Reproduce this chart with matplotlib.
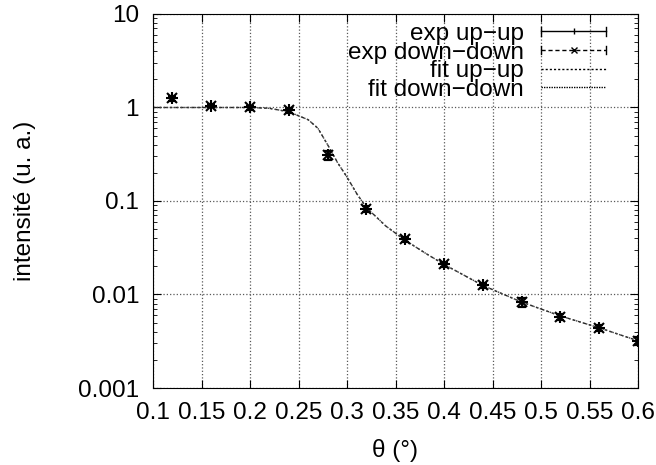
import matplotlib
matplotlib.use("Agg")
import matplotlib.pyplot as plt
from matplotlib.legend_handler import HandlerBase
from matplotlib.lines import Line2D
from matplotlib.ticker import LogLocator, FixedLocator, FuncFormatter, NullFormatter

plt.rcParams['font.family'] = ['Liberation Sans', 'DejaVu Sans']

# data
theta_exp = [0.12, 0.16, 0.20, 0.24, 0.28, 0.32, 0.36, 0.40, 0.44, 0.48, 0.52, 0.56, 0.60]
exp_upup = [1.25, 1.05, 1.0, 0.93, 0.31, 0.083, 0.039, 0.021, 0.0125, 0.0083, 0.0058, 0.0044, 0.0032]
err_upup = [0.07, 0.05, 0.05, 0.05, 0.035, 0.006, 0.0025, 0.0013, 0.0008, 0.0009, 0.0004, 0.0003, 0.0003]
exp_dndn = [1.25, 1.05, 1.0, 0.93, 0.31, 0.083, 0.039, 0.021, 0.0125, 0.0083, 0.0058, 0.0044, 0.0032]
err_dndn = [0.07, 0.05, 0.05, 0.05, 0.035, 0.006, 0.0025, 0.0013, 0.0008, 0.0009, 0.0004, 0.0003, 0.0003]

theta_fit = [0.10, 0.12, 0.14, 0.16, 0.18, 0.20, 0.22, 0.24, 0.26, 0.27, 0.28, 0.29, 0.30, 0.31,
             0.32, 0.34, 0.36, 0.38, 0.40, 0.44, 0.48, 0.52, 0.56, 0.60]
fit_upup = [1.0, 1.0, 1.0, 1.0, 1.0, 1.0, 0.98, 0.9, 0.74, 0.6, 0.40, 0.26, 0.18, 0.12,
            0.085, 0.054, 0.038, 0.028, 0.021, 0.0125, 0.0083, 0.0059, 0.0044, 0.0032]
fit_dndn = [1.0, 1.0, 1.0, 1.0, 1.0, 1.0, 0.98, 0.9, 0.74, 0.6, 0.40, 0.26, 0.18, 0.12,
            0.085, 0.054, 0.038, 0.028, 0.021, 0.0125, 0.0083, 0.0059, 0.0044, 0.0032]

labels = ['exp up\u2212up', 'exp down\u2212down', 'fit up\u2212up', 'fit down\u2212down']
xticks = [0.1, 0.15, 0.2, 0.25, 0.3, 0.35, 0.4, 0.45, 0.5, 0.55, 0.6]
yticks = [0.001, 0.01, 0.1, 1, 10]

FS = 17.5

fig = plt.figure(figsize=(6.56, 4.65), dpi=100)
ax = fig.add_axes([153/656, 77/465, (638-153)/656, (388-14)/465])

ax.set_yscale('log')
ax.set_xlim(0.1, 0.6)
ax.set_ylim(0.001, 10)

ax.plot(theta_fit, fit_upup, ls=(0, (2, 2)), color='0.15', lw=1)
ax.plot(theta_fit, fit_dndn, ls=(0, (1, 1.5)), color='0.25', lw=1)
ax.errorbar(theta_exp, exp_upup, yerr=err_upup, fmt='+', color='k', ms=8, mew=1.5,
            elinewidth=1, capsize=3)
ax.errorbar(theta_exp, exp_dndn, yerr=err_dndn, fmt='x', color='k', ms=7, mew=1.5,
            elinewidth=1, capsize=3, ls='none')

ax.xaxis.set_major_locator(FixedLocator(xticks))
ax.xaxis.set_major_formatter(FuncFormatter(lambda v, p: '%g' % v))
ax.yaxis.set_major_locator(FixedLocator(yticks))
ax.yaxis.set_major_formatter(FuncFormatter(lambda v, p: '%g' % v))
ax.yaxis.set_minor_locator(LogLocator(base=10, subs=range(2, 10)))
ax.yaxis.set_minor_formatter(NullFormatter())

ax.tick_params(which='both', direction='in', top=True, right=True, labelsize=FS)
ax.tick_params(which='major', length=6, width=0.8, pad=10)
ax.tick_params(which='minor', length=3, width=0.6)
ax.grid(True, which='major', ls=':', color='0.35', lw=0.9)

ax.set_xlabel('\u03b8 (\u00b0)', fontsize=FS, labelpad=11)
ax.set_ylabel('intensit\u00e9 (u. a.)', fontsize=FS, labelpad=30)


class GnuHandler(HandlerBase):
    def __init__(self, ls, marker=None, caps=True):
        super().__init__()
        self.ls = ls
        self.marker = marker
        self.caps = caps

    def create_artists(self, legend, orig_handle, xdescent, ydescent, width, height,
                       fontsize, trans):
        y = height / 2 - ydescent
        x0 = -xdescent
        x1 = width - xdescent
        arts = [Line2D([x0, x1], [y, y], ls=self.ls, color='k', lw=1, transform=trans)]
        if self.caps:
            h = 3
            arts.append(Line2D([x0, x0], [y - h, y + h], color='k', lw=1, transform=trans))
            arts.append(Line2D([x1, x1], [y - h, y + h], color='k', lw=1, transform=trans))
        if self.marker:
            arts.append(Line2D([(x0 + x1) / 2], [y], marker=self.marker, ms=5, mew=1,
                               color='k', ls='none', transform=trans))
        return arts


h1, h2, h3, h4 = object(), object(), object(), object()
leg = ax.legend([h1, h2, h3, h4], labels,
                handler_map={h1: GnuHandler('-', '|'), h2: GnuHandler((0, (3, 2)), 'x'),
                             h3: GnuHandler((0, (1.5, 1.5)), None, False),
                             h4: GnuHandler((0, (1, 0.8)), None, False)},
                loc='upper right', bbox_to_anchor=(0.965, 1.015), frameon=False,
                markerfirst=False, fontsize=FS, handlelength=2.7, handletextpad=0.7,
                labelspacing=-0.14, borderpad=0.1)

fig.savefig('out.png', dpi=100)
